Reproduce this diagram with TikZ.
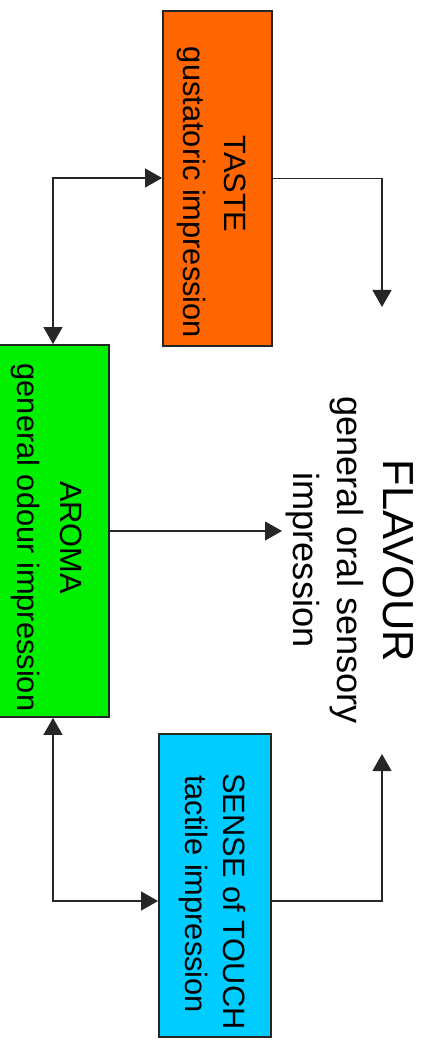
\documentclass[tikz,border=0pt]{standalone}
\usepackage{fontspec}
\setmainfont{Liberation Sans}
\usetikzlibrary{arrows.meta}
\definecolor{tasteorange}{HTML}{FF6600}
\definecolor{aromagreen}{HTML}{00F000}
\definecolor{touchcyan}{HTML}{00CCFF}
\tikzset{
  sensebox/.style={draw=black!85, line width=1.8pt, inner sep=0pt},
  boxtext/.style={rotate=-90, anchor=base, inner sep=0pt, font=\fontsize{30.8}{36}\selectfont},
  titletext/.style={rotate=-90, anchor=base, inner sep=0pt, font=\fontsize{43.5}{50}\selectfont},
  subtext/.style={rotate=-90, anchor=base, inner sep=0pt, font=\fontsize{36.2}{42}\selectfont},
  conn/.style={line width=1.1pt, draw=black!85, -{Triangle[length=17pt,width=19pt]}},
  biconn/.style={line width=1.1pt, draw=black!85, {Triangle[length=17pt,width=19pt]}-{Triangle[length=17pt,width=19pt]}}
}
\begin{document}
\begin{tikzpicture}[x=1pt,y=1pt]
\useasboundingbox (0,0) rectangle (430,-1040);
% boxes
\node[sensebox, fill=tasteorange, minimum width=109pt, minimum height=335pt] (taste) at (217.5,-178.5) {};
\node[sensebox, fill=aromagreen, minimum width=114pt, minimum height=372pt] (aroma) at (52,-531) {};
\node[sensebox, fill=touchcyan, minimum width=112pt, minimum height=303pt] (touch) at (215,-885.5) {};
% texts
\node[boxtext] (tasteA) at (224,-184) {TASTE};
\node[boxtext] (tasteB) at (183,-192.5) {gustatoric impression};
\node[boxtext] (aromaA) at (60,-537.5) {AROMA};
\node[boxtext] (aromaB) at (17,-537.5) {general odour impression};
\node[titletext] (flavA) at (383,-561) {FLAVOUR};
\node[subtext] (flavB) at (337,-560) {general oral sensory};
\node[subtext] (flavC) at (293,-560) {impression};
\node[boxtext] (touchA) at (223.5,-901.5) {SENSE of TOUCH};
\node[boxtext] (touchB) at (185,-894) {tactile impression};
% helper coordinates
\coordinate (c1) at (53,-178);
\coordinate (c2) at (53,-901);
\coordinate (ft) at (382,-307);
\coordinate (fb) at (382,-754);
\coordinate (fa) at (282,-531);
% connectors
\draw[biconn] (c1 |- aroma.north) -- (c1) -- (c1 -| taste.west);
\draw[biconn] (c2 |- aroma.south) -- (c2) -- (c2 -| touch.west);
\draw[conn] (taste.east) -| (ft);
\draw[conn] (c2 -| touch.east) -| (fb);
\draw[conn] (aroma.east) -- (fa);
\end{tikzpicture}
\end{document}
